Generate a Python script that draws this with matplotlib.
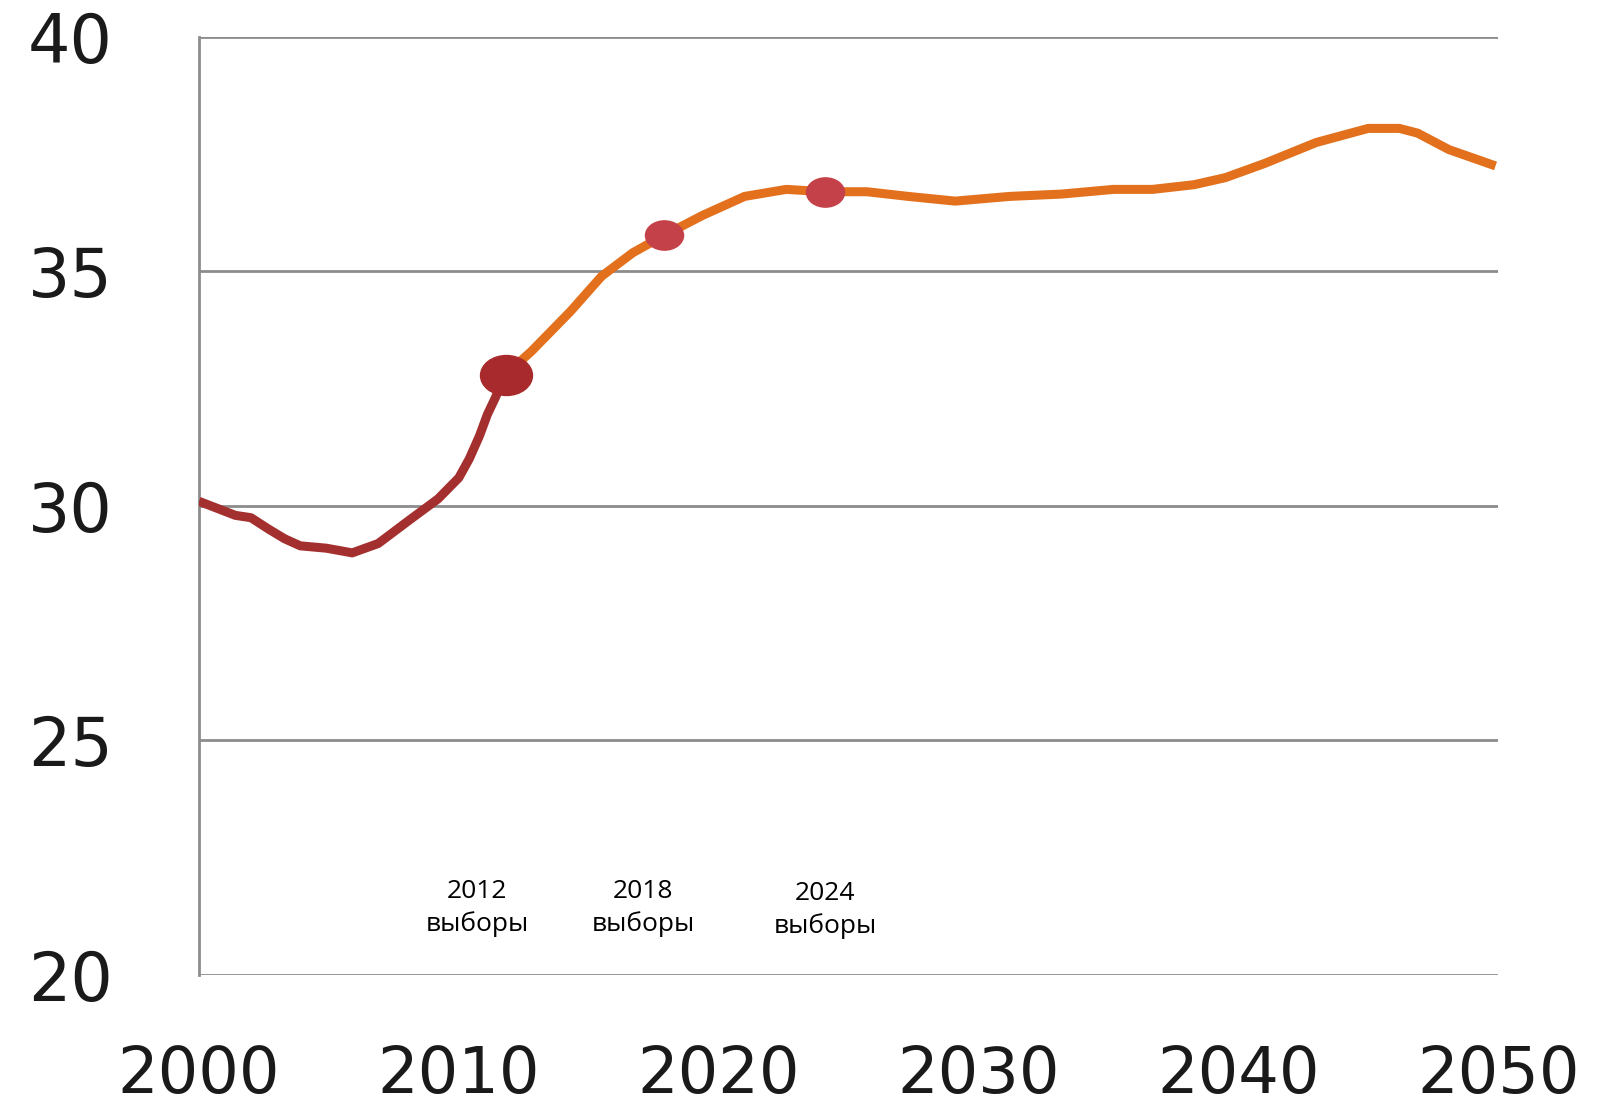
import numpy as np
import matplotlib.pyplot as plt
from matplotlib.path import Path
from matplotlib.transforms import Affine2D

# history part (2000-2012)
years_hist = [2000, 2000.7, 2001.4, 2002, 2002.7, 2003.3, 2003.9, 2004.9, 2005.9,
              2006.9, 2008.1, 2009.2, 2010, 2010.4, 2010.8, 2011.1, 2011.4, 2011.8]
vals_hist = [30.1, 29.95, 29.8, 29.75, 29.5, 29.3, 29.15, 29.1, 29.0,
             29.2, 29.7, 30.15, 30.6, 31.0, 31.5, 31.95, 32.3, 32.8]

# forecast part (2012-2050)
years_fc = [2011.8, 2012.8, 2014.3, 2015.5, 2016.7, 2017.9, 2019.4, 2021, 2022.6,
            2024.1, 2025.7, 2027.3, 2029.1, 2031.2, 2033.2, 2035.2, 2036.7,
            2038.3, 2039.5, 2041, 2043, 2045, 2046.2, 2046.9, 2048.1, 2049.9]
vals_fc = [32.8, 33.3, 34.15, 34.9, 35.4, 35.77, 36.2, 36.6, 36.75,
           36.7, 36.7, 36.6, 36.5, 36.6, 36.65, 36.75, 36.75,
           36.85, 37.0, 37.3, 37.75, 38.05, 38.05, 37.95, 37.6, 37.25]

# election points
elect_x = [2011.8, 2017.9, 2024.1]
elect_y = [32.8, 35.77, 36.7]
elect_lbl = ['2012\nвыборы', '2018\nвыборы', '2024\nвыборы']
lbl_x = [2010.7, 2017.1, 2024.1]
lbl_y = [21.42, 21.42, 21.38]

xticks = [2000, 2010, 2020, 2030, 2040, 2050]
yticks = [20, 25, 30, 35, 40]

fig = plt.figure(figsize=(15.98, 11.13), dpi=100)
ax = fig.add_axes([0.1245, 0.124, 0.813, 0.8428])

for y in yticks:
    ax.axhline(y, color='#8c8c8c', lw=2, zorder=1)

ax.plot(years_fc, vals_fc, color='#e2701c', lw=6.5, solid_capstyle='butt',
        solid_joinstyle='round', zorder=3)
ax.plot(years_hist, vals_hist, color='#a3302e', lw=6.5, solid_capstyle='butt',
        solid_joinstyle='round', zorder=4)

# slightly wide dots
circ = Path.unit_circle()
ell = Path(Affine2D().scale(1.3, 1.0).transform(circ.vertices), circ.codes)
ax.scatter(elect_x[:1], elect_y[:1], s=1400, marker=ell, color='#a92a2c', zorder=5)
ax.scatter(elect_x[1:], elect_y[1:], s=750, marker=ell, color='#c5414a', zorder=5)

for x, y, t in zip(lbl_x, lbl_y, elect_lbl):
    ax.text(x, y, t, ha='center', va='center', fontsize=19, family='Open Sans',
            linespacing=1.35)

ax.set_xlim(2000, 2050)
ax.set_ylim(20, 40)
ax.set_xticks(xticks)
ax.set_yticks(yticks)
ax.tick_params(length=0, colors='#1a1a1a')
ax.tick_params(axis='y', pad=62, labelsize=48)
ax.tick_params(axis='x', pad=50, labelsize=46)
for s in ['top', 'right', 'bottom']:
    ax.spines[s].set_visible(False)
ax.spines['left'].set_color('#8c8c8c')
ax.spines['left'].set_linewidth(2)

fig.savefig('out.png', dpi=100)
